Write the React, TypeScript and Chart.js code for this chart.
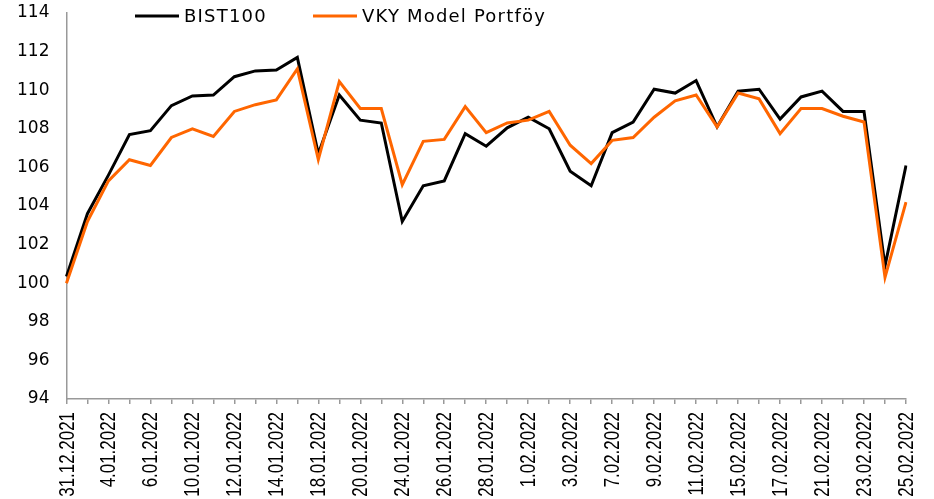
import React, { useEffect, useRef } from "react";
import { Chart, registerables } from "chart.js";

Chart.register(...registerables);

const dates = [
  "31.12.2021", "3.01.2022", "4.01.2022", "5.01.2022", "6.01.2022", "7.01.2022",
  "10.01.2022", "11.01.2022", "12.01.2022", "13.01.2022", "14.01.2022", "17.01.2022",
  "18.01.2022", "19.01.2022", "20.01.2022", "21.01.2022", "24.01.2022", "25.01.2022",
  "26.01.2022", "27.01.2022", "28.01.2022", "31.01.2022", "1.02.2022", "2.02.2022",
  "3.02.2022", "4.02.2022", "7.02.2022", "8.02.2022", "9.02.2022", "10.02.2022",
  "11.02.2022", "14.02.2022", "15.02.2022", "16.02.2022", "17.02.2022", "18.02.2022",
  "21.02.2022", "22.02.2022", "23.02.2022", "24.02.2022", "25.02.2022",
];

const bist100 = [
  100.35, 103.6, 105.6, 107.7, 107.9, 109.2, 109.7, 109.75, 110.7, 111.0, 111.05,
  111.7, 106.7, 109.75, 108.45, 108.3, 103.2, 105.05, 105.3, 107.75, 107.1, 108.05,
  108.6, 108.0, 105.8, 105.05, 107.8, 108.35, 110.05, 109.85, 110.5, 108.1, 109.95,
  110.05, 108.5, 109.65, 109.95, 108.9, 108.9, 100.9, 106.1,
];

const vkyModel = [
  100.0, 103.2, 105.3, 106.4, 106.1, 107.55, 108.0, 107.6, 108.9, 109.25, 109.5,
  111.1, 106.4, 110.45, 109.05, 109.05, 105.1, 107.35, 107.45, 109.15, 107.8, 108.3,
  108.45, 108.9, 107.15, 106.2, 107.4, 107.55, 108.6, 109.45, 109.75, 108.1, 109.85,
  109.55, 107.75, 109.05, 109.05, 108.65, 108.35, 100.3, 104.2,
];

const seriesNames = ["BIST100", "VKY Model Portföy"];
const seriesColors = ["#000000", "#FF6600"];
const yMin = 94;
const yMax = 114;
const yStep = 2;

const legendPlugin = {
  id: "customLegend",
  afterDraw(chart: any) {
    const ctx = chart.ctx;
    const starts = [135, 313];
    const lineLen = 44;
    const gap = 5;
    const y = 16;
    ctx.save();
    ctx.font = "18px 'DejaVu Sans', sans-serif";
    (ctx as any).letterSpacing = "1.2px";
    ctx.textBaseline = "middle";
    ctx.textAlign = "left";
    chart.data.datasets.forEach((ds: any, i: number) => {
      const x = starts[i];
      ctx.strokeStyle = ds.borderColor;
      ctx.lineWidth = 3;
      ctx.beginPath();
      ctx.moveTo(x, y);
      ctx.lineTo(x + lineLen, y);
      ctx.stroke();
      ctx.fillStyle = "#000";
      ctx.fillText(ds.label, x + lineLen + gap, y + 1);
    });
    ctx.restore();
  },
};

// Narrow, rotated category labels drawn at the x scale's own pixel positions
const xLabelPlugin = {
  id: "narrowXLabels",
  afterDraw(chart: any) {
    const ctx = chart.ctx;
    const xs = chart.scales.x;
    const top = chart.chartArea.bottom + 13;
    ctx.save();
    ctx.font = "22px 'Liberation Sans', Arial, sans-serif";
    ctx.fillStyle = "#000";
    ctx.textAlign = "right";
    ctx.textBaseline = "middle";
    chart.data.labels.forEach((lab: string, i: number) => {
      if (i % 2 !== 0) return;
      const x = xs.getPixelForValue(i);
      ctx.save();
      ctx.translate(x + 1, top);
      ctx.rotate(-Math.PI / 2);
      ctx.scale(0.77, 1);
      ctx.fillText(lab, 0, 0);
      ctx.restore();
    });
    ctx.restore();
  },
};

export default function App() {
  const ref = useRef<HTMLCanvasElement | null>(null);

  useEffect(() => {
    document.body.style.margin = "0";
    if (!ref.current) return;
    const chart = new Chart(ref.current, {
      type: "line",
      data: {
        labels: dates,
        datasets: [
          {
            label: seriesNames[0],
            data: bist100,
            borderColor: seriesColors[0],
            backgroundColor: seriesColors[0],
            borderWidth: 3,
            pointRadius: 0,
            tension: 0,
            order: 2,
          },
          {
            label: seriesNames[1],
            data: vkyModel,
            borderColor: seriesColors[1],
            backgroundColor: seriesColors[1],
            borderWidth: 3,
            pointRadius: 0,
            tension: 0,
            order: 1,
          },
        ],
      },
      options: {
        animation: false,
        responsive: false,
        maintainAspectRatio: false,
        layout: { padding: { left: 0, right: 28, top: 13, bottom: 95 } },
        plugins: {
          legend: { display: false },
          tooltip: { enabled: false },
        },
        scales: {
          x: {
            offset: false,
            grid: {
              display: true,
              drawOnChartArea: false,
              drawTicks: true,
              tickLength: 5,
              color: "#999999",
              lineWidth: 1.5,
            },
            border: { display: true, color: "#999999", width: 1.5 },
            ticks: {
              display: false,
              autoSkip: false,
            },
          },
          y: {
            min: yMin,
            max: yMax,
            grid: { display: false, drawTicks: false },
            border: { display: true, color: "#999999", width: 1.5 },
            afterFit: (scale: any) => {
              scale.paddingTop = 0;
            },
            ticks: {
              stepSize: yStep,
              padding: 17,
              color: "#000",
              font: { family: "'DejaVu Sans', sans-serif", size: 17 },
            },
          },
        },
      },
      plugins: [legendPlugin, xLabelPlugin],
    });
    return () => chart.destroy();
  }, []);

  return (
    <div style={{ width: 934, height: 499 }}>
      <canvas ref={ref} width={934} height={499} style={{ display: "block" }} />
    </div>
  );
}
